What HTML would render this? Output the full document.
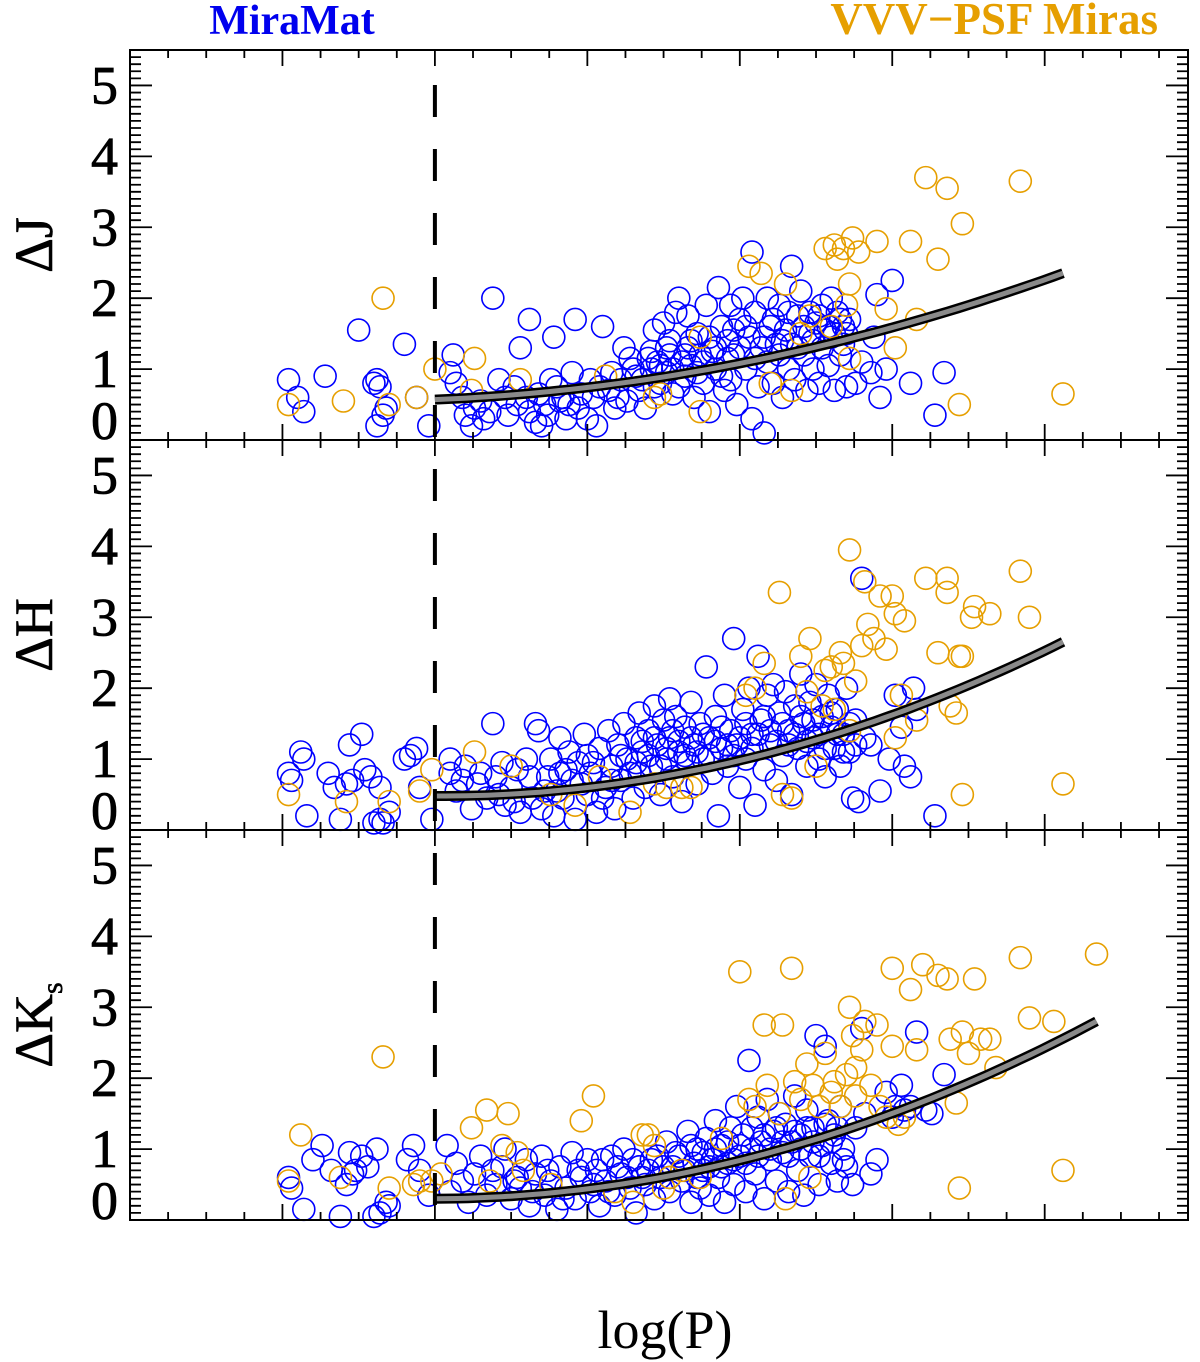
<!DOCTYPE html>
<html><head><meta charset="utf-8"><style>
html,body{margin:0;padding:0;background:#fff;}
svg{display:block;}
text{font-family:"Liberation Serif","DejaVu Serif",serif;}
</style></head><body>
<svg id="chart" width="1200" height="1362" viewBox="0 0 1200 1362" xmlns="http://www.w3.org/2000/svg">
<text x="292" y="34" font-size="42" font-weight="bold" fill="#0000ee" text-anchor="middle">MiraMat</text>
<text x="1158" y="34" font-size="45" font-weight="bold" fill="#e69f00" text-anchor="end">VVV−PSF Miras</text>
<text x="665" y="1348" font-size="54" text-anchor="middle">log(P)</text>
<g id="plots"></g>
</svg>
<script>
// ---- data ----
const panelNames = ["J","H","Ks"];
const yTickLabels = ["0","1","2","3","4","5"];
const xDomain = [1.0, 4.47];
const yDomain = [0, 5.5];
const periodCut = 2.0;
const fitJ = [0.57, 0.175, 0.335];
const fitH = [0.48, -0.023, 0.523];
const fitK = [0.30, 0.016, 0.524];
const fitEndJ = 4.06, fitEndH = 4.06, fitEndK = 4.17;

const jBlue = [[1.52,.85],[1.55,.6],[1.57,.4],[1.64,.9],[1.75,1.55],[1.80,.8],[1.81,.85],[1.82,.75],[1.81,.2],[1.83,.35],[1.84,.45],[1.90,1.35],[1.94,.6],[1.98,.2],
[2.05,.95],[2.06,1.2],[2.07,.8],[2.09,.6],[2.12,.2],[2.13,.45],[2.16,.3],[2.19,2.0],[2.21,.85],[2.23,.6],[2.26,.75],[2.28,1.3],[2.31,.4],[2.31,1.7],[2.33,.25],[2.35,.2],[2.36,.5],[2.38,.85],[2.39,1.45],[2.41,.55],[2.43,.3],[2.45,.95],[2.46,1.7],[2.48,.65],[2.50,.3],[2.51,.85],[2.53,.2],[2.55,1.6],[2.57,.7],[2.59,.45],[2.61,.85],[2.62,1.3],[2.64,1.15],[2.66,.9],[2.67,.7],[2.69,.45],[2.71,1.0],[2.71,1.25],[2.72,1.55],[2.73,1.1],[2.74,.8],[2.75,1.65],[2.76,.95],[2.77,1.2],[2.77,1.4],[2.78,.65],[2.79,1.8],[2.80,2.0],[2.81,1.1],[2.82,.9],[2.83,1.3],[2.83,1.75],[2.84,1.05],[2.85,.6],[2.86,1.5],[2.87,1.2],[2.88,.8],[2.89,1.9],[2.90,.4],[2.91,1.25],[2.92,1.0],[2.93,2.15],[2.94,1.6],[2.95,.7],[2.96,1.4],[2.97,.85],[2.97,1.9],[2.98,1.2],[2.99,.5],[3.00,1.7],[3.01,2.0],[3.02,1.0],[3.03,1.45],[3.04,.3],[3.04,2.65],[3.05,1.8],[3.06,.75],[3.07,1.3],[3.08,.1],[3.09,2.0],[3.09,1.1],[3.10,1.6],[3.11,.8],[3.12,1.35],[3.13,1.9],[3.13,1.2],[3.14,.6],[3.15,1.55],[3.16,1.0],[3.17,2.45],[3.17,1.35],[3.18,.85],[3.19,1.75],[3.20,2.1],[3.21,1.2],[3.22,.7],[3.23,1.5],[3.23,1.8],[3.24,1.0],[3.25,1.65],[3.26,.8],[3.27,1.9],[3.27,1.3],[3.28,1.55],[3.29,1.05],[3.30,2.0],[3.30,1.45],[3.31,.7],[3.32,1.8],[3.33,1.2],[3.34,1.6],[3.34,1.35],[3.35,.75],[3.36,1.7],[3.38,.8],[3.40,1.1],[3.43,.95],[3.44,1.45],[3.45,2.05],[3.46,.6],[3.48,1.0],[3.50,2.25],[3.56,.8],[3.64,.35],[3.67,.95],
[2.10,.35],[2.15,.55],[2.18,.4],[2.24,.35],[2.27,.5],[2.30,.6],[2.34,.65],[2.37,.35],[2.40,.75],[2.42,.6],[2.44,.5],[2.47,.45],[2.52,.6],[2.54,.75],[2.58,.95],[2.60,.6],[2.63,.55],[2.65,1.0],[2.68,.85],[2.70,1.15],[2.72,.75],[2.74,1.05],[2.76,1.3],[2.78,1.0],[2.80,.75],[2.82,1.2],[2.84,1.4],[2.86,.95],[2.88,1.1],[2.90,1.45],[2.92,1.3],[2.94,.9],[2.96,1.15],[2.98,1.55],[3.00,1.3],[3.02,1.6],[3.05,1.15],[3.08,1.45],[3.11,1.7],[3.14,1.4],[3.16,1.8],[3.19,1.3],[3.21,1.6],[3.24,1.4],[3.26,1.75],[3.29,1.6],[3.31,1.5],[3.33,1.7],[3.35,1.5]];
const jOrange = [[1.52,.5],[1.70,.55],[1.83,2.0],[1.85,.5],[1.94,.6],[2.00,1.0],[2.13,1.15],[2.12,.7],[2.28,.85],[2.56,.9],[2.72,.6],[2.74,.65],[2.87,1.45],[2.87,.4],[3.03,2.45],[3.07,2.35],[3.10,.8],[3.15,2.2],[3.17,.7],[3.20,1.5],[3.23,1.75],[3.28,2.7],[3.30,1.6],[3.31,2.75],[3.32,2.55],[3.34,2.7],[3.35,1.9],[3.36,2.2],[3.36,1.15],[3.37,2.85],[3.39,2.65],[3.45,2.8],[3.48,1.85],[3.51,1.3],[3.56,2.8],[3.58,1.7],[3.61,3.7],[3.65,2.55],[3.68,3.55],[3.72,.5],[3.73,3.05],[3.92,3.65],[4.06,.65]];

const hBlue = [[1.52,.8],[1.53,.7],[1.56,1.1],[1.57,1.0],[1.58,.2],[1.65,.8],[1.67,.6],[1.69,.15],[1.71,.65],[1.72,1.2],[1.73,.7],[1.76,1.35],[1.77,.85],[1.79,.75],[1.80,.1],[1.82,.15],[1.82,.6],[1.83,.1],[1.85,.25],[1.90,1.0],[1.92,1.05],[1.94,1.15],[1.95,.6],[1.99,.15],
[2.05,1.0],[2.05,.8],[2.07,.55],[2.09,.7],[2.10,.9],[2.12,.3],[2.14,.65],[2.17,.45],[2.19,1.5],[2.20,.75],[2.22,.95],[2.23,.35],[2.25,.6],[2.27,.85],[2.28,.25],[2.30,1.0],[2.31,.75],[2.33,1.5],[2.34,1.4],[2.35,.3],[2.36,.55],[2.38,1.0],[2.39,.2],[2.41,.8],[2.41,1.3],[2.42,.45],[2.44,1.1],[2.45,.7],[2.46,.15],[2.47,.95],[2.49,1.35],[2.50,.5],[2.50,1.05],[2.51,.8],[2.53,.25],[2.54,1.15],[2.56,.6],[2.57,1.4],[2.58,.9],[2.59,.3],[2.60,1.2],[2.61,.7],[2.62,1.5],[2.63,1.0],[2.65,.45],[2.66,1.3],[2.67,.8],[2.67,1.65],[2.68,1.1],[2.69,.6],[2.70,1.4],[2.71,.9],[2.72,1.75],[2.73,1.2],[2.74,.5],[2.75,1.55],[2.76,1.0],[2.77,1.85],[2.77,1.3],[2.78,.75],[2.79,1.6],[2.80,1.1],[2.81,.4],[2.82,1.45],[2.83,.95],[2.84,1.8],[2.85,1.2],[2.86,.65],[2.87,1.5],[2.88,1.0],[2.89,2.3],[2.90,1.3],[2.91,.8],[2.92,1.6],[2.93,.2],[2.94,1.15],[2.95,1.9],[2.96,.9],[2.97,1.4],[2.98,2.7],[2.99,1.2],[3.00,.6],[3.01,1.7],[3.02,1.0],[3.03,2.0],[3.04,1.35],[3.05,.35],[3.06,2.45],[3.07,1.55],[3.08,.85],[3.09,1.9],[3.10,1.2],[3.11,2.05],[3.12,.7],[3.13,1.65],[3.14,1.05],[3.15,1.95],[3.16,1.4],[3.17,.5],[3.18,1.75],[3.19,1.15],[3.20,2.2],[3.21,1.5],[3.22,.9],[3.23,1.8],[3.24,1.3],[3.25,2.05],[3.26,1.0],[3.27,1.6],[3.28,.75],[3.29,1.9],[3.30,1.45],[3.31,1.15],[3.32,1.7],[3.33,.9],[3.34,1.35],[3.35,2.0],[3.36,1.1],[3.37,.45],[3.38,1.55],[3.39,.4],[3.40,3.55],[3.41,1.3],[3.43,1.2],[3.46,.55],[3.49,1.0],[3.51,1.9],[3.53,1.45],[3.54,.9],[3.56,.75],[3.57,2.0],[3.58,1.7],[3.64,.2],
[2.15,.8],[2.21,.5],[2.26,.4],[2.32,.45],[2.37,.75],[2.40,.55],[2.43,.85],[2.48,.65],[2.52,.95],[2.55,.45],[2.58,.7],[2.61,1.05],[2.64,.8],[2.66,.95],[2.68,1.25],[2.70,1.05],[2.72,1.3],[2.74,.9],[2.76,1.15],[2.78,1.4],[2.80,1.25],[2.82,1.05],[2.84,1.3],[2.86,1.1],[2.88,1.35],[2.90,1.05],[2.92,1.25],[2.94,1.45],[2.96,1.2],[2.98,1.05],[3.00,1.3],[3.02,1.5],[3.04,1.15],[3.06,1.35],[3.08,1.6],[3.10,1.4],[3.12,1.25],[3.14,1.5],[3.16,1.2],[3.18,1.35],[3.20,1.6],[3.22,1.25],[3.24,1.55],[3.26,1.35],[3.28,1.15],[3.30,1.65],[3.32,1.35],[3.34,1.1],[3.36,1.5],[3.38,1.2]];
const hOrange = [[1.52,.5],[1.71,.4],[1.85,.4],[1.95,.55],[1.99,.85],[2.13,1.1],[2.25,.9],[2.38,.5],[2.46,.35],[2.54,.75],[2.64,.25],[2.72,.65],[2.76,.6],[2.81,.6],[2.84,.6],[3.02,1.9],[3.05,2.0],[3.08,2.35],[3.13,3.35],[3.14,.5],[3.17,.45],[3.20,2.45],[3.22,1.95],[3.23,2.7],[3.25,.9],[3.27,1.75],[3.28,2.25],[3.30,2.3],[3.31,1.7],[3.33,2.5],[3.34,2.35],[3.36,3.95],[3.36,1.4],[3.38,2.1],[3.40,2.6],[3.41,3.5],[3.42,2.9],[3.44,2.7],[3.46,3.3],[3.48,2.55],[3.50,3.3],[3.51,3.05],[3.51,1.3],[3.53,1.9],[3.54,2.95],[3.58,1.55],[3.61,3.55],[3.65,2.5],[3.68,3.55],[3.68,3.35],[3.69,1.75],[3.71,1.65],[3.72,2.45],[3.73,.5],[3.73,2.45],[3.76,3.0],[3.77,3.15],[3.82,3.05],[3.92,3.65],[3.95,3.0],[4.06,.65]];

const kBlue = [[1.52,.6],[1.53,.45],[1.57,.15],[1.60,.85],[1.63,1.05],[1.66,.7],[1.69,.05],[1.71,.5],[1.72,.95],[1.73,.65],[1.74,.7],[1.76,.9],[1.78,.75],[1.80,.05],[1.81,1.0],[1.82,.1],[1.84,.25],[1.85,.2],[1.91,.85],[1.93,1.05],[1.95,.7],[1.98,.35],
[2.04,1.05],[2.05,.4],[2.07,.8],[2.09,.55],[2.11,.25],[2.13,.65],[2.15,.9],[2.17,.35],[2.20,.5],[2.22,.75],[2.23,1.0],[2.25,.3],[2.27,.6],[2.28,.45],[2.30,.85],[2.31,.2],[2.33,.65],[2.35,.9],[2.36,.35],[2.38,.55],[2.40,.15],[2.41,.75],[2.43,.45],[2.45,.95],[2.46,.3],[2.48,.6],[2.50,.85],[2.51,.4],[2.53,.7],[2.54,.2],[2.56,.55],[2.58,.9],[2.59,.35],[2.61,.65],[2.62,1.0],[2.64,.45],[2.66,.1],[2.67,.75],[2.69,.5],[2.71,.85],[2.72,.3],[2.74,.6],[2.76,1.1],[2.77,.4],[2.78,.75],[2.79,.95],[2.81,.55],[2.83,1.25],[2.84,.25],[2.85,.8],[2.86,1.0],[2.87,.45],[2.88,.7],[2.89,1.15],[2.90,.35],[2.91,.85],[2.92,1.4],[2.93,.6],[2.94,1.05],[2.95,.25],[2.96,.8],[2.97,1.3],[2.98,.5],[2.99,1.6],[3.00,.9],[3.01,1.2],[3.02,.4],[3.03,2.25],[3.04,1.0],[3.05,.65],[3.06,1.45],[3.07,1.1],[3.08,.3],[3.09,1.7],[3.10,.85],[3.11,1.25],[3.12,.55],[3.13,1.5],[3.14,.95],[3.15,1.35],[3.16,.4],[3.17,1.1],[3.18,1.75],[3.19,.7],[3.20,1.2],[3.21,.35],[3.22,1.55],[3.23,.9],[3.24,1.3],[3.25,2.6],[3.26,.5],[3.27,1.05],[3.28,2.45],[3.29,1.4],[3.30,.8],[3.31,1.2],[3.32,.55],[3.33,1.6],[3.34,1.0],[3.35,.75],[3.37,.5],[3.38,1.3],[3.40,2.7],[3.41,1.5],[3.43,.65],[3.45,.85],[3.48,1.8],[3.50,1.45],[3.51,1.6],[3.53,1.9],[3.54,1.55],[3.56,1.6],[3.58,2.65],[3.61,1.55],[3.63,1.5],[3.67,2.05],
[2.19,.7],[2.26,.55],[2.32,.4],[2.37,.7],[2.42,.3],[2.47,.7],[2.52,.5],[2.55,.85],[2.57,.4],[2.60,.75],[2.63,.6],[2.65,.85],[2.68,.6],[2.70,.7],[2.73,.9],[2.75,.75],[2.77,.6],[2.80,.9],[2.82,.7],[2.84,1.05],[2.86,.6],[2.88,.95],[2.90,.75],[2.92,1.0],[2.94,.75],[2.96,1.1],[2.98,.85],[3.00,1.05],[3.02,.8],[3.04,1.3],[3.06,.9],[3.08,1.2],[3.10,1.0],[3.12,1.3],[3.14,1.1],[3.16,.9],[3.18,1.25],[3.20,1.0],[3.22,1.3],[3.24,1.1],[3.26,.9],[3.28,1.35],[3.30,1.1],[3.32,1.3],[3.34,.85]];
const kOrange = [[1.52,.55],[1.56,1.2],[1.69,.6],[1.83,2.3],[1.85,.45],[1.93,.5],[1.95,.55],[1.99,.55],[2.02,.65],[2.12,1.3],[2.17,1.55],[2.18,.55],[2.22,1.05],[2.24,1.5],[2.27,.95],[2.29,.7],[2.38,.5],[2.48,1.4],[2.52,1.75],[2.59,.4],[2.65,.25],[2.68,1.2],[2.70,1.2],[2.72,1.05],[2.75,.45],[2.77,.6],[2.81,.7],[2.87,.6],[2.94,1.15],[3.00,3.5],[3.03,1.7],[3.05,1.6],[3.08,2.75],[3.09,1.9],[3.13,1.5],[3.14,2.75],[3.15,.3],[3.17,3.55],[3.18,1.95],[3.20,1.7],[3.22,2.2],[3.23,.6],[3.24,1.9],[3.26,1.6],[3.28,2.35],[3.30,1.8],[3.31,1.95],[3.33,1.6],[3.35,2.05],[3.36,3.0],[3.37,2.6],[3.38,2.15],[3.38,1.75],[3.40,2.4],[3.41,2.8],[3.43,1.9],[3.45,2.75],[3.46,1.6],[3.48,1.45],[3.50,3.55],[3.50,2.45],[3.52,1.35],[3.54,1.45],[3.56,3.25],[3.58,2.4],[3.60,3.6],[3.65,3.45],[3.68,3.4],[3.69,2.55],[3.71,1.65],[3.72,.45],[3.73,2.65],[3.75,2.35],[3.77,3.4],[3.79,2.55],[3.82,2.55],[3.84,2.15],[3.92,3.7],[3.95,2.85],[4.03,2.8],[4.06,.7],[4.17,3.75]];

// ---- layout ----
const NS = "http://www.w3.org/2000/svg";
const L = 130, R = 1188;
const panelTops = [50, 440, 830];
const PH = 390;
function mk(tag, attrs, parent){ const e=document.createElementNS(NS,tag); for(const k in attrs) e.setAttribute(k,attrs[k]); parent.appendChild(e); return e; }
const xs = v => L + (v - xDomain[0]) / (xDomain[1]-xDomain[0]) * (R-L);
const plots = document.getElementById('plots');

const panelSeries = [[jBlue,jOrange,fitJ,fitEndJ],[hBlue,hOrange,fitH,fitEndH],[kBlue,kOrange,fitK,fitEndK]];

panelSeries.forEach((ps, pi) => {
  const top = panelTops[pi], bot = top + PH;
  const ys = v => bot - (v - yDomain[0])/(yDomain[1]-yDomain[0]) * PH;
  const g = mk('g', {}, plots);
  
  
  const gb = mk('g', {fill:'none', stroke:'#0000ff', 'stroke-width':1.6}, g);
  
  
  ps[0].forEach(p => {
    const c = mk('circle', {cx: xs(p[0]), cy: ys(p[1]), r: 11}, gb);
    
    
  });
  const go = mk('g', {fill:'none', stroke:'#e69f00', 'stroke-width':1.6}, g);
  
  
  ps[1].forEach(p => {
    const c = mk('circle', {cx: xs(p[0]), cy: ys(p[1]), r: 11}, go);
    
    
  });
  const f = ps[2], end = ps[3];
  let d = '';
  for (let i=0;i<=60;i++){ const x = periodCut + (end-periodCut)*i/60, t = x-periodCut; const y = f[0]+f[1]*t+f[2]*t*t; d += (i?'L':'M') + xs(x).toFixed(1) + ' ' + ys(y).toFixed(1); }
  const c1 = mk('path', {d, fill:'none', stroke:'#000', 'stroke-width':10}, g);
  
  
  const c2 = mk('path', {d, fill:'none', stroke:'#8a8a8a', 'stroke-width':5}, g);
  
  
  const fr = mk('rect', {x:L, y:top, width:R-L, height:PH, fill:'none', stroke:'#000', 'stroke-width':2}, g);
  
  
  let td = '';
  for (let k=0;k<=55;k++){ const v=k/10, y=ys(v); const len = (k%10===0)?22:11; td += `M${L} ${y}h${len}M${R} ${y}h${-len}`; }
  for (let k=0;k<=27;k++){ const v = xDomain[0] + k*0.125; if (v>xDomain[1]) break; const x = xs(v); const len = (k%4===0)?16:8; td += `M${x} ${bot}v${-len}M${x} ${top}v${len}`; }
  const tk = mk('path', {d: td, stroke:'#000', 'stroke-width':1.8, fill:'none'}, g);
  
  
  yTickLabels.forEach((lab, k) => {
    const y = ys(+lab) + 18 - (k===0 ? 19 : 0);
    const t = mk('text', {x: 118, y: y, 'font-size': 54, 'text-anchor':'end', 'stroke':'#000', 'stroke-width':0.8}, g);
    t.textContent = lab;
    
    
  });
  const cy = top + 195;
  const yt = mk('text', {x: 0, y: 0, 'font-size': 54, 'text-anchor':'middle', 'stroke':'#000', 'stroke-width':0.6, transform:`translate(52 ${cy}) rotate(-90)`}, g);
  
  
  if (panelNames[pi] === 'Ks') {
    yt.innerHTML = 'ΔK<tspan font-size="30" dy="10">s</tspan>';
  } else {
    yt.textContent = 'Δ' + panelNames[pi];
  }
});

const dl = mk('line', {x1: xs(periodCut), x2: xs(periodCut), y1: 85, y2: 1219, stroke:'#000', 'stroke-width':4, 'stroke-dasharray':'32 32'}, plots);


</script>
</body></html>
